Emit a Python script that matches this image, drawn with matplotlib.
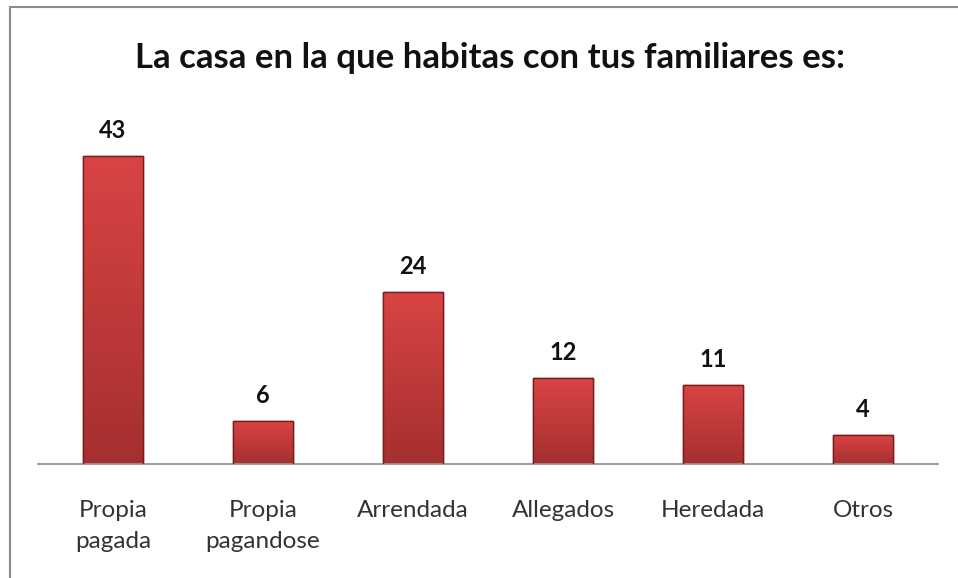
import numpy as np
import matplotlib.pyplot as plt
from matplotlib.patches import Rectangle
from matplotlib.colors import LinearSegmentedColormap

categories = ['Propia\npagada', 'Propia\npagandose', 'Arrendada', 'Allegados', 'Heredada', 'Otros']
values = [43, 6, 24, 12, 11, 4]
title = 'La casa en la que habitas con tus familiares es:'

plt.rcParams['font.family'] = ['Lato', 'DejaVu Sans']

fig = plt.figure(figsize=(9.58, 5.78), dpi=100)
ax = fig.add_axes([38/958, 114/578, 900/958, 358/578])

x = np.arange(len(values))
bars = ax.bar(x, values, width=0.4, color='#c83a3a', edgecolor='#7a1c1c', linewidth=1.0, zorder=2)

# vertical gradient inside each bar
grad = np.linspace(0, 1, 256).reshape(-1, 1)
cmap = LinearSegmentedColormap.from_list('rg', ['#a52f2f', '#d94444'])
for b in bars:
    x0, y0 = b.get_x(), b.get_y()
    w, h = b.get_width(), b.get_height()
    im = ax.imshow(grad, extent=[x0, x0 + w, y0, y0 + h], origin='lower',
                   cmap=cmap, aspect='auto', zorder=2.5)
    im.set_clip_path(b)
    ax.bar(x0 + w/2, h, width=w, fill=False, edgecolor='#7a1c1c', linewidth=1.0, zorder=3)

for xi, v in zip(x, values):
    ax.text(xi, v + 2.0, str(v), ha='center', va='bottom', fontsize=17, fontweight='bold', color='#111111')

ax.set_xlim(-0.5, len(values) - 0.5)
ax.set_ylim(0, 50)
ax.set_xticks(x)
ax.set_xticklabels(categories, fontsize=17.5, color='#333333', linespacing=1.6)
ax.tick_params(axis='x', length=0, pad=26)
ax.set_yticks([])
for s in ['top', 'right', 'left']:
    ax.spines[s].set_visible(False)
ax.spines['bottom'].set_color('#a0a0a0')
ax.spines['bottom'].set_linewidth(1.5)

fig.text(490/958, 1 - 58/578, title, ha='center', va='center', fontsize=25, fontweight='bold', color='#111111')

# outer frame (right and bottom edges are cut off)
fig.patches.append(Rectangle((10/958, -0.1), 1.0, 0.1 + (578-7)/578, transform=fig.transFigure,
                             fill=False, edgecolor='#8a8a8a', linewidth=1.5))

fig.savefig('out.png', dpi=100)
